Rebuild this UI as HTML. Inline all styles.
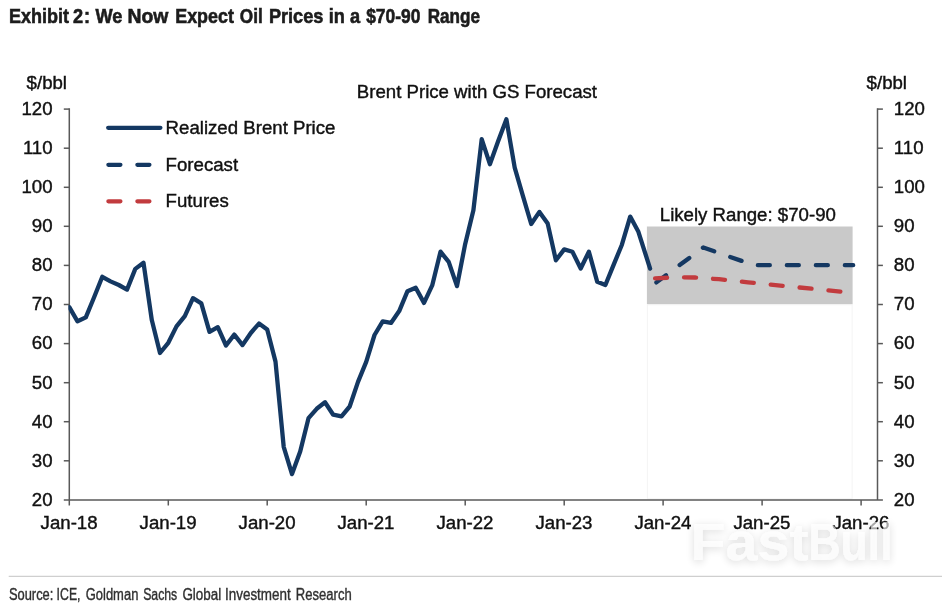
<!DOCTYPE html>
<html lang="en">
<head>
<meta charset="utf-8">
<title>Exhibit 2: We Now Expect Oil Prices in a $70-90 Range</title>
<style>
html,body{margin:0;padding:0;background:#fff;}
body{width:949px;height:609px;overflow:hidden;position:relative;font-family:"Liberation Sans",sans-serif;}
svg{position:absolute;left:0;top:0;display:block;}
text{font-family:"Liberation Sans",sans-serif;}
.lb{font-size:18.2px;fill:#111;stroke:#111;stroke-width:0.4px;}
.ttl{font-size:20.4px;font-weight:bold;fill:#1c1c1c;stroke:#1c1c1c;stroke-width:0.6px;}
.src{font-size:17.3px;fill:#303030;stroke:#303030;stroke-width:0.4px;}
.wm{font-size:51px;font-weight:bold;fill:#fff;}
</style>
</head>
<body>
<svg width="949" height="609" viewBox="0 0 949 609">
<defs>
<clipPath id="pc"><rect x="68.4" y="100" width="800" height="400"/></clipPath>
<filter id="ws" x="-10%" y="-30%" width="120%" height="170%">
<feGaussianBlur in="SourceAlpha" stdDeviation="4" result="b"/>
<feOffset in="b" dx="0" dy="2" result="o"/>
<feComponentTransfer in="o" result="s"><feFuncA type="linear" slope="0.24"/></feComponentTransfer>
<feMerge><feMergeNode in="s"/><feMergeNode in="SourceGraphic"/></feMerge>
</filter>
</defs>
<rect x="0" y="0" width="949" height="609" fill="#ffffff"/>
<text class="ttl" y="22.8"><tspan x="8.97" textLength="60.02" lengthAdjust="spacingAndGlyphs">Exhibit</tspan> <tspan x="72.89" textLength="10.10" lengthAdjust="spacingAndGlyphs">2</tspan><tspan x="84.03" textLength="6.05" lengthAdjust="spacingAndGlyphs">:</tspan> <tspan x="95.42" textLength="26.89" lengthAdjust="spacingAndGlyphs">We</tspan> <tspan x="127.46" textLength="40.89" lengthAdjust="spacingAndGlyphs">Now</tspan> <tspan x="175.22" textLength="58.67" lengthAdjust="spacingAndGlyphs">Expect</tspan> <tspan x="239.78" textLength="22.94" lengthAdjust="spacingAndGlyphs">Oil</tspan> <tspan x="268.91" textLength="54.52" lengthAdjust="spacingAndGlyphs">Prices</tspan> <tspan x="328.82" textLength="16.13" lengthAdjust="spacingAndGlyphs">in</tspan> <tspan x="349.96" textLength="10.10" lengthAdjust="spacingAndGlyphs">a</tspan> <tspan x="366.20" textLength="54.23" lengthAdjust="spacingAndGlyphs">$70-90</tspan> <tspan x="427.69" textLength="52.36" lengthAdjust="spacingAndGlyphs">Range</tspan></text>
<rect x="646.9" y="226.5" width="205.7" height="77.8" fill="#c9c9c9"/>
<rect x="647.4" y="304.8" width="204.7" height="194" fill="none" stroke="#f4f4f4" stroke-width="1"/>
<g stroke="#595959" stroke-width="1.5" fill="none">
<path d="M69.3 108.3V499.9"/>
<path d="M877.5 108.3V499.9"/>
<path d="M63.8 499.9H882.9"/>
<path d="M63.8 460.8H69.3"/><path d="M877.5 460.8H882.9"/>
<path d="M63.8 421.7H69.3"/><path d="M877.5 421.7H882.9"/>
<path d="M63.8 382.7H69.3"/><path d="M877.5 382.7H882.9"/>
<path d="M63.8 343.6H69.3"/><path d="M877.5 343.6H882.9"/>
<path d="M63.8 304.5H69.3"/><path d="M877.5 304.5H882.9"/>
<path d="M63.8 265.4H69.3"/><path d="M877.5 265.4H882.9"/>
<path d="M63.8 226.3H69.3"/><path d="M877.5 226.3H882.9"/>
<path d="M63.8 187.3H69.3"/><path d="M877.5 187.3H882.9"/>
<path d="M63.8 148.2H69.3"/><path d="M877.5 148.2H882.9"/>
<path d="M63.8 109.1H69.3"/><path d="M877.5 109.1H882.9"/>
<path d="M69.3 499.9V505.5"/>
<path d="M168.3 499.9V505.5"/>
<path d="M267.2 499.9V505.5"/>
<path d="M366.2 499.9V505.5"/>
<path d="M465.2 499.9V505.5"/>
<path d="M564.2 499.9V505.5"/>
<path d="M663.1 499.9V505.5"/>
<path d="M762.1 499.9V505.5"/>
<path d="M861.1 499.9V505.5"/>
</g>
<text class="lb" transform="translate(52.6 505.7) scale(1.025 1)" text-anchor="end">20</text>
<text class="lb" transform="translate(893.8 505.7) scale(1.025 1)" text-anchor="start">20</text>
<text class="lb" transform="translate(52.6 466.6) scale(1.025 1)" text-anchor="end">30</text>
<text class="lb" transform="translate(893.8 466.6) scale(1.025 1)" text-anchor="start">30</text>
<text class="lb" transform="translate(52.6 427.5) scale(1.025 1)" text-anchor="end">40</text>
<text class="lb" transform="translate(893.8 427.5) scale(1.025 1)" text-anchor="start">40</text>
<text class="lb" transform="translate(52.6 388.5) scale(1.025 1)" text-anchor="end">50</text>
<text class="lb" transform="translate(893.8 388.5) scale(1.025 1)" text-anchor="start">50</text>
<text class="lb" transform="translate(52.6 349.4) scale(1.025 1)" text-anchor="end">60</text>
<text class="lb" transform="translate(893.8 349.4) scale(1.025 1)" text-anchor="start">60</text>
<text class="lb" transform="translate(52.6 310.3) scale(1.025 1)" text-anchor="end">70</text>
<text class="lb" transform="translate(893.8 310.3) scale(1.025 1)" text-anchor="start">70</text>
<text class="lb" transform="translate(52.6 271.2) scale(1.025 1)" text-anchor="end">80</text>
<text class="lb" transform="translate(893.8 271.2) scale(1.025 1)" text-anchor="start">80</text>
<text class="lb" transform="translate(52.6 232.1) scale(1.025 1)" text-anchor="end">90</text>
<text class="lb" transform="translate(893.8 232.1) scale(1.025 1)" text-anchor="start">90</text>
<text class="lb" transform="translate(52.6 193.1) scale(1.025 1)" text-anchor="end">100</text>
<text class="lb" transform="translate(893.8 193.1) scale(1.025 1)" text-anchor="start">100</text>
<text class="lb" transform="translate(52.6 154.0) scale(1.025 1)" text-anchor="end">110</text>
<text class="lb" transform="translate(893.8 154.0) scale(1.025 1)" text-anchor="start">110</text>
<text class="lb" transform="translate(52.6 114.9) scale(1.025 1)" text-anchor="end">120</text>
<text class="lb" transform="translate(893.8 114.9) scale(1.025 1)" text-anchor="start">120</text>
<text class="lb" transform="translate(26.6 89.2) scale(1.025 1)" text-anchor="start">$/bbl</text>
<text class="lb" transform="translate(866.6 89.2) scale(1.025 1)" text-anchor="start">$/bbl</text>
<text class="lb" transform="translate(69.1 528.6) scale(1.025 1)" text-anchor="middle">Jan-18</text>
<text class="lb" transform="translate(168.1 528.6) scale(1.025 1)" text-anchor="middle">Jan-19</text>
<text class="lb" transform="translate(267.1 528.6) scale(1.025 1)" text-anchor="middle">Jan-20</text>
<text class="lb" transform="translate(366.0 528.6) scale(1.025 1)" text-anchor="middle">Jan-21</text>
<text class="lb" transform="translate(465.0 528.6) scale(1.025 1)" text-anchor="middle">Jan-22</text>
<text class="lb" transform="translate(564.0 528.6) scale(1.025 1)" text-anchor="middle">Jan-23</text>
<text class="lb" transform="translate(662.9 528.6) scale(1.025 1)" text-anchor="middle">Jan-24</text>
<text class="lb" transform="translate(761.9 528.6) scale(1.025 1)" text-anchor="middle">Jan-25</text>
<text class="lb" transform="translate(860.9 528.6) scale(1.025 1)" text-anchor="middle">Jan-26</text>
<text class="lb" transform="translate(476.9 97.6) scale(1.025 1)" text-anchor="middle">Brent Price with GS Forecast</text>
<text class="lb" transform="translate(747.8 220.5) scale(1.025 1)" text-anchor="middle">Likely Range: $70-90</text>
<path d="M108.2 127.8H160.4" stroke="#143862" stroke-width="4.3" stroke-linecap="round" fill="none"/>
<path d="M108.4 164.8H160" stroke="#143862" stroke-width="4.3" stroke-linecap="round" stroke-dasharray="12 17" fill="none"/>
<path d="M108.4 201.3H160" stroke="#c23b3e" stroke-width="4.3" stroke-linecap="round" stroke-dasharray="12 17" fill="none"/>
<text class="lb" transform="translate(165.6 134.3) scale(1.025 1)" text-anchor="start">Realized Brent Price</text>
<text class="lb" transform="translate(165.6 171.1) scale(1.025 1)" text-anchor="start">Forecast</text>
<text class="lb" transform="translate(165.6 207.4) scale(1.025 1)" text-anchor="start">Futures</text>
<polyline clip-path="url(#pc)" points="69.3,307.2 77.5,321.3 85.8,317.4 94.0,297.5 102.3,276.8 110.5,281.4 118.8,285.0 127.0,289.6 135.3,268.9 143.5,262.7 151.8,320.1 160.0,353.0 168.3,342.8 176.5,326.4 184.8,316.2 193.0,298.2 201.3,303.3 209.5,331.9 217.8,327.2 226.0,345.5 234.3,334.6 242.5,345.1 250.8,333.0 259.0,323.6 267.2,329.5 275.5,361.6 283.7,446.8 292.0,474.1 300.2,451.4 308.5,418.2 316.7,408.8 325.0,402.2 333.2,414.7 341.5,416.3 349.7,406.5 358.0,381.9 366.2,361.9 374.5,335.0 382.7,321.3 391.0,322.9 399.2,311.1 407.5,291.2 415.7,287.7 424.0,302.9 432.2,285.4 440.5,251.7 448.7,261.9 457.0,286.1 465.2,243.9 473.4,210.3 481.7,139.2 489.9,164.2 498.2,141.1 506.4,119.3 514.7,167.7 522.9,195.9 531.2,224.0 539.4,211.9 547.7,223.6 555.9,260.3 564.2,249.4 572.4,251.7 580.7,268.5 588.9,251.7 597.2,281.8 605.4,285.0 613.7,264.6 621.9,244.7 630.2,216.6 638.4,231.8 650.1,268.6" fill="none" stroke="#143862" stroke-width="4.3" stroke-linejoin="round" stroke-linecap="round"/>
<polyline points="656.4,282.4 703.3,247.5 753.9,265.2 853.2,265.2" fill="none" stroke="#143862" stroke-width="4.3" stroke-linejoin="round" stroke-linecap="round" stroke-dasharray="12 17"/>
<polyline points="655.1,278.4 675.0,277.3 695.0,277.5 719.0,279.2 748.0,282.3 840.4,291.6" fill="none" stroke="#c23b3e" stroke-width="4.3" stroke-linejoin="round" stroke-linecap="round" stroke-dasharray="12 17"/>
<text class="wm" y="559.7" filter="url(#ws)" fill-opacity="0.62"><tspan x="690.5" textLength="118" lengthAdjust="spacingAndGlyphs">Fast</tspan><tspan x="808.5" textLength="84" lengthAdjust="spacingAndGlyphs">Bull</tspan></text>
<path d="M8.7 576.3H942" stroke="#cfcfcf" stroke-width="1.3" fill="none"/>
<text class="src" y="600.4"><tspan x="8.94" textLength="44.42" lengthAdjust="spacingAndGlyphs">Source:</tspan> <tspan x="56.62" textLength="23.86" lengthAdjust="spacingAndGlyphs">ICE,</tspan> <tspan x="85.74" textLength="52.61" lengthAdjust="spacingAndGlyphs">Goldman</tspan> <tspan x="143.17" textLength="34.10" lengthAdjust="spacingAndGlyphs">Sachs</tspan> <tspan x="182.42" textLength="38.84" lengthAdjust="spacingAndGlyphs">Global</tspan> <tspan x="225.03" textLength="65.69" lengthAdjust="spacingAndGlyphs">Investment</tspan> <tspan x="295.86" textLength="55.88" lengthAdjust="spacingAndGlyphs">Research</tspan></text>
</svg>
</body>
</html>
